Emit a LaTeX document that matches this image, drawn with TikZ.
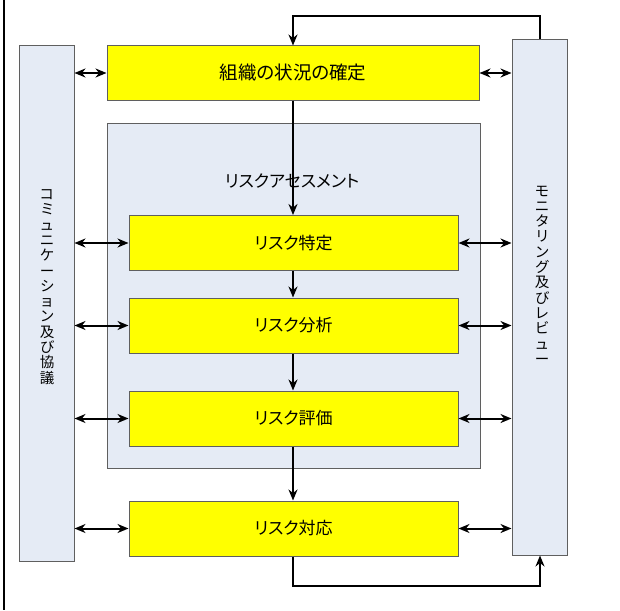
\documentclass[tikz,border=0pt]{standalone}
\usepackage{fontspec}
\newfontfamily\jp[RawFeature=+palt]{Noto Sans CJK JP}
\usetikzlibrary{arrows.meta}
\definecolor{ylw}{HTML}{FFFF00}
\definecolor{lblue}{HTML}{E5EBF5}
\definecolor{bgray}{HTML}{5F5F5F}
\tikzset{
  x=1pt, y=-1pt,
  yellowbox/.style={draw=bgray, line width=1pt, fill=ylw, minimum width=329pt, minimum height=55pt, inner sep=0pt, font=\jp\fontsize{17}{20}\selectfont},
  sidebox/.style={draw=bgray, line width=1pt, fill=lblue, minimum width=55pt, minimum height=515pt, inner sep=0pt},
  flow/.style={line width=2pt, -{Stealth[length=11pt,width=9pt]}},
  both/.style={line width=2pt, {Stealth[length=11pt,width=9pt]}-{Stealth[length=11pt,width=9pt]}},
  vtext/.style={align=center, inner sep=0pt, font=\jp\fontsize{14.5}{15.3}\selectfont}
}
\begin{document}
\begin{tikzpicture}
\useasboundingbox (0,0) rectangle (620,610);
\draw[line width=2pt] (4,0) -- (4,610);
% side boxes
\node[sidebox] (comm) at (46.5,303.5) {};
\node[sidebox] (mon) at (539.5,297.5) {};
\node[vtext] (commt) at (47,287) {コ\\ミ\\ュ\\ニ\\ケ\\ー\\シ\\ョ\\ン\\及\\び\\協\\議};
\node[vtext] (mont) at (542,275) {モ\\ニ\\タ\\リ\\ン\\グ\\及\\び\\レ\\ビ\\ュ\\ー};
% risk assessment frame
\node[draw=bgray, line width=1pt, fill=lblue, minimum width=373pt, minimum height=345pt, inner sep=0pt] (ra) at (293.5,295.5) {};
\node[font=\jp\fontsize{17}{20}\selectfont, inner sep=0pt] (rat) at (292,181) {リスクアセスメント};
% yellow boxes
\node[yellowbox, minimum width=372pt, minimum height=54pt, font=\jp\fontsize{18.5}{22}\selectfont] (ctx) at (293,73) {組織の状況の確定};
\node[yellowbox] (ident) at (293.5,243) {リスク特定};
\node[yellowbox] (anal) at (293.5,325.5) {リスク分析};
\node[yellowbox] (eval) at (293.5,418.5) {リスク評価};
\node[yellowbox] (resp) at (293.5,528.5) {リスク対応};
% vertical flow
\draw[flow] (ctx.south -| 293,0) -- (ident.north -| 293,0);
\draw[flow] (ident.south -| 293,0) -- (anal.north -| 293,0);
\draw[flow] (anal.south -| 293,0) -- (eval.north -| 293,0);
\draw[flow] (eval.south -| 293,0) -- (resp.north -| 293,0);
% loops
\coordinate (tl) at (293,16);
\coordinate (bl) at (293,586);
\draw[flow] (mon.north -| 540,0) |- (tl) -- (ctx.north -| 293,0);
\draw[flow] (resp.south -| 293,0) -- (bl) -| (mon.south -| 540,0);
% horizontal double arrows
\draw[both] (comm.east |- ctx) -- (ctx.west);
\draw[both] (ctx.east) -- (mon.west |- ctx);
\foreach \n in {ident,anal,eval,resp}{
  \draw[both] (comm.east |- \n) -- (\n.west);
  \draw[both] (\n.east) -- (mon.west |- \n);
}
\end{tikzpicture}
\end{document}
